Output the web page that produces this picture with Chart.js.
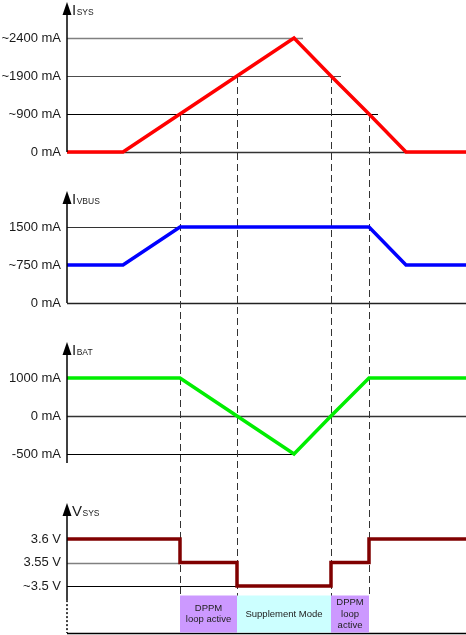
<!DOCTYPE html>
<html>
<head>
<meta charset="utf-8">
<script src="https://cdn.jsdelivr.net/npm/chart.js@4.4.1/dist/chart.umd.min.js"></script>
<style>
html,body{margin:0;padding:0;background:#fff;}
#wrap{position:relative;width:466px;height:635px;}
</style>
</head>
<body>
<div id="wrap"><canvas id="timing"></canvas></div>
<script>
// ---- data ----
// time points shared by every trace (schematic time, left edge = 0)
var timePoints = [0, 56, 113, 170, 227, 264, 302, 339, 399];

// ISYS
var isysLevels = [0, 900, 1900, 2400];
var isysLabels = ['0 mA', '~900 mA', '~1900 mA', '~2400 mA'];
var isysValues = [0, 0, 900, 1900, 2400, 1900, 900, 0, 0];

// IVBUS
var ivbusLevels = [0, 750, 1500];
var ivbusLabels = ['0 mA', '~750 mA', '1500 mA'];
var ivbusValues = [750, 750, 1500, 1500, 1500, 1500, 1500, 750, 750];

// IBAT
var ibatLevels = [-500, 0, 1000];
var ibatLabels = ['-500 mA', '0 mA', '1000 mA'];
var ibatValues = [1000, 1000, 1000, 0, -500, 0, 1000, 1000, 1000];

// VSYS
var vsysLevels = [3.5, 3.55, 3.6];
var vsysLabels = ['~3.5 V', '3.55 V', '3.6 V'];
var vsysValues = [3.6, 3.6, 3.55, 3.5, 3.5, 3.55, 3.6, 3.6, 3.6];

// operating modes under the traces
var modeStart = [113, 170, 264];
var modeEnd = [170, 264, 302];
var modeText = [['DPPM', 'loop active'], ['Supplement Mode'], ['DPPM', 'loop', 'active']];

// ---- helpers ----
var FONT = 'Liberation Sans, Arial, sans-serif';

function trace(values, levels, color, axisId, stepped)
{
	return {
		data: timePoints.map(function(t, i){ return {x: t, y: levels.indexOf(values[i])}; }),
		borderColor: color,
		borderWidth: 3.5,
		borderJoinStyle: 'miter',
		pointRadius: 0,
		tension: 0,
		fill: false,
		stepped: stepped ? 'before' : false,
		yAxisID: axisId
	};
}

function levelAxis(labels, min, max, weight, stackWeight)
{
	return {
		type: 'linear',
		position: 'left',
		stack: 'panels',
		stackWeight: stackWeight,
		weight: weight,
		min: min,
		max: max,
		grid: {display: false, drawTicks: false},
		border: {display: false},
		afterBuildTicks: function(axis){ axis.ticks = labels.map(function(l, i){ return {value: i}; }); },
		afterFit: function(axis){ axis.width = 67; axis.paddingTop = 0; axis.paddingBottom = 0; },
		ticks: {
			padding: 6,
			color: '#1a1a1a',
			autoSkip: false,
			font: {family: FONT, size: 13},
			callback: function(v){ return labels[v]; }
		}
	};
}

// horizontal guide lines: [level, end time, colour, width]
var guides = {
	yIsys:  [[3, 236, '#808080', 1.5], [2, 274, '#4d4d4d', 1.2], [1, 311, '#000000', 1], [0, 399, '#333333', 1.5]],
	yIvbus: [[2, 113, '#333333', 1], [1, 56, '#333333', 1], [0, 399, '#222222', 1.5]],
	yIbat:  [[2, 113, '#333333', 1], [1, 399, '#333333', 1.5], [0, 227, '#000000', 1]],
	yVsys:  [[1, 113, '#808080', 1.5], [0, 170, '#000000', 1], [-2, 399, '#000000', 1.5]]
};

// axis: title letter, subscript, bottom level of the solid axis line
var axisMarks = {
	yIsys:  ['I', 'SYS', 0],
	yIvbus: ['I', 'VBUS', 0],
	yIbat:  ['I', 'BAT', -0.24],
	yVsys:  ['V', 'SYS', -0.6]
};

var diagramPlugin = {
	id: 'diagram',
	beforeDatasetsDraw: function(chart)
	{
		var ctx = chart.ctx, xs = chart.scales.x;
		ctx.save();
		// guides
		Object.keys(guides).forEach(function(id){
			var ys = chart.scales[id];
			guides[id].forEach(function(g){
				var y = Math.round(ys.getPixelForValue(g[0])) + 0.5;
				ctx.beginPath();
				ctx.strokeStyle = g[2];
				ctx.lineWidth = g[3];
				ctx.moveTo(xs.getPixelForValue(0), y);
				ctx.lineTo(xs.getPixelForValue(g[1]), y);
				ctx.stroke();
			});
		});
		// dashed mode boundaries, from the ISYS trace down to the mode boxes
		var boxTop = chart.scales.yVsys.getPixelForValue(-2) - 37;
		var bounds = [modeStart[0], modeStart[1], modeStart[2], modeEnd[2]];
		ctx.setLineDash([7, 4]);
		ctx.strokeStyle = '#333';
		ctx.lineWidth = 1;
		bounds.forEach(function(t){
			var idx = timePoints.indexOf(t);
			var top = chart.scales.yIsys.getPixelForValue(isysLevels.indexOf(isysValues[idx]));
			var x = Math.round(xs.getPixelForValue(t)) + 0.5;
			ctx.beginPath();
			ctx.moveTo(x, top);
			ctx.lineTo(x, boxTop);
			ctx.stroke();
		});
		ctx.restore();
	},
	afterDatasetsDraw: function(chart)
	{
		var ctx = chart.ctx, xs = chart.scales.x;
		var x0 = xs.getPixelForValue(0);
		ctx.save();
		Object.keys(axisMarks).forEach(function(id){
			var ys = chart.scales[id];
			var m = axisMarks[id];
			var topTick = ys.getPixelForValue(ys.ticks.length - 1);
			var tip = topTick - 36;
			var bottom = ys.getPixelForValue(m[2]);
			ctx.strokeStyle = '#000';
			ctx.lineWidth = 1.5;
			ctx.beginPath();
			ctx.moveTo(x0, tip + 8);
			ctx.lineTo(x0, bottom);
			ctx.stroke();
			if (id === 'yVsys')
			{
				ctx.setLineDash([2, 2]);
				ctx.beginPath();
				ctx.moveTo(x0, bottom);
				ctx.lineTo(x0, ys.getPixelForValue(-2));
				ctx.stroke();
				ctx.setLineDash([]);
			}
			// arrow head
			ctx.fillStyle = '#000';
			ctx.beginPath();
			ctx.moveTo(x0, tip);
			ctx.lineTo(x0 - 4.5, tip + 13);
			ctx.lineTo(x0 + 4.5, tip + 13);
			ctx.closePath();
			ctx.fill();
			// title with subscript
			ctx.fillStyle = '#1a1a1a';
			ctx.textBaseline = 'alphabetic';
			ctx.textAlign = 'left';
			ctx.font = '15px ' + FONT;
			var tx = x0 + 5;
			ctx.fillText(m[0], tx, tip + 13);
			tx += ctx.measureText(m[0]).width + 0.5;
			ctx.font = '8.5px ' + FONT;
			ctx.fillText(m[1], tx, tip + 13);
		});
		// mode boxes
		var bot = chart.scales.yVsys.getPixelForValue(-2) - 0.5;
		var boxColors = ['#cc99ff', '#ccffff', '#cc99ff'];
		modeStart.forEach(function(t, i){
			var l = xs.getPixelForValue(t), r = xs.getPixelForValue(modeEnd[i]);
			ctx.fillStyle = boxColors[i];
			ctx.fillRect(l, bot - 37, r - l, 37);
			ctx.fillStyle = '#222';
			ctx.font = '9.5px ' + FONT;
			ctx.textAlign = 'center';
			ctx.textBaseline = 'middle';
			var lines = modeText[i];
			var mid = bot - 18.5;
			lines.forEach(function(s, k){
				ctx.fillText(s, (l + r) / 2, mid + (k - (lines.length - 1) / 2) * 11.5);
			});
		});
		ctx.restore();
	}
};

var timingChart = new Chart(document.getElementById('timing'), {
	type: 'line',
	data: {
		datasets: [
			trace(isysValues, isysLevels, '#ff0000', 'yIsys', false),
			trace(ivbusValues, ivbusLevels, '#0000ff', 'yIvbus', false),
			trace(ibatValues, ibatLevels, '#00ee00', 'yIbat', false),
			trace(vsysValues, vsysLevels, '#800000', 'yVsys', true)
		]
	},
	options: {
		responsive: true,
		maintainAspectRatio: false,
		animation: false,
		layout: {padding: {top: 0, right: 0, bottom: 2, left: 0}},
		plugins: {legend: {display: false}, tooltip: {enabled: false}},
		scales: {
			x: {type: 'linear', min: 0, max: 399, display: false},
			yIsys: levelAxis(isysLabels, -0.5, 4.0, 4, 171),
			yIvbus: levelAxis(ivbusLabels, -0.5, 132 / 38, 3, 151),
			yIbat: levelAxis(ibatLabels, -0.5, 132 / 38, 2, 151),
			yVsys: levelAxis(vsysLabels, -2, 113 / 23.5, 1, 160)
		}
	},
	plugins: [diagramPlugin]
});
</script>
</body>
</html>
